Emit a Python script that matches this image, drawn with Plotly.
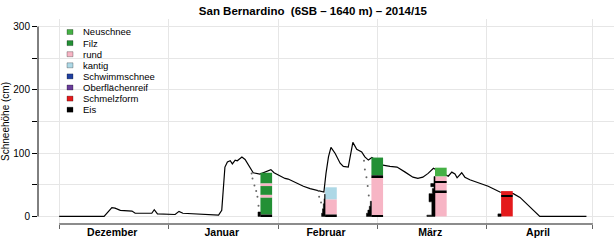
import numpy as np
import pandas as pd
import plotly.graph_objects as go

SEASON_START = pd.Timestamp("2014-12-01")

# ---- snow height (days since 1 Dec 2014, cm) ----
snow_day = [0.0, 12.7, 14.9, 15.8, 17.3, 20.6, 21.5, 26.2, 26.9, 27.8, 32.8, 33.9, 35.0,
            39.4, 39.9, 45.1, 46.0, 46.9, 47.6, 48.4, 49.0, 49.8, 50.4, 51.7, 52.6, 53.8,
            54.9, 56.8, 59.9, 60.8, 62.5, 63.9, 64.8, 67.2, 69.1, 71.0, 72.4, 73.8, 74.9,
            75.5, 76.2, 76.9, 78.1, 79.5, 80.4, 81.8, 82.5, 83.1, 84.2, 85.6, 86.5, 87.5,
            88.5, 91.6, 93.6, 95.6, 97.9, 100.1, 101.5, 102.9, 104.4, 105.9, 110.1, 111.1,
            112.0, 112.6, 113.9, 114.8, 116.2, 119.5, 121.4, 124.7, 128.5, 130.4, 132.3,
            134.1, 136.0, 149.2]
snow_cm = [0, 0, 14, 13, 9.5, 8.4, 5, 5, 10.6, 4, 3, 8, 5,
           4, 2.7, 2, 9.5, 78, 86, 88, 83, 89, 88, 94, 90, 78,
           69, 67, 74, 69, 63.5, 60, 59, 52, 47.6, 44, 42.4, 41, 38.6,
           68, 94, 109, 99.5, 84, 79, 78, 99.5, 117, 106, 102, 94, 89,
           93, 81, 79, 78, 70, 62, 60, 62, 68, 76, 63.5, 70,
           67, 61, 69, 62, 58, 52, 47.6, 38.6, 36, 30, 20,
           9.5, 0, 0]

# ---- snow profiles ----
profile_day = [58.6, 76.9, 90.0, 108.0, 126.7]
profile_layers = [
    [(0, 3, "Eis"), (3, 30, "Filz"), (30, 34, "rund"), (34, 48, "Filz"), (48, 52, "rund"), (52, 69, "Filz")],
    [(0, 3, "Eis"), (3, 27, "rund"), (27, 46, "kantig")],
    [(0, 2, "Eis"), (2, 62, "rund"), (62, 65, "Eis"), (65, 93, "Filz")],
    [(0, 38, "rund"), (38, 41, "Eis"), (41, 54, "rund"), (54, 56, "Eis"), (56, 63, "rund"), (63, 77, "Neuschnee")],
    [(0, 31, "Schmelzform"), (31, 33, "Eis"), (33, 40, "Schmelzform")],
]
# ram hardness per profile: (bottom cm, top cm, hardness in days of width)
profile_hardness = [
    [(0, 7, 0.7)],
    [(0, 5, 1.0), (5, 12, 0.75), (12, 20, 0.5), (20, 28, 0.3), (28, 35, 0.15)],
    [(0, 5, 1.4), (5, 10, 1.0), (10, 16, 0.6), (16, 24, 0.3)],
    [(0, 2, 2.3), (2, 23, 0.9), (23, 36, 1.7), (36, 44, 0.75), (44, 47, 0.3), (47, 52, 1.2), (52, 63, 0.3)],
    [(0, 4, 0.9)],
]
# snow temperatures per profile (height cm, temperature degC)
temp_height = [[68, 60, 49, 40, 31, 17], [40, 31, 22], [88, 74, 62, 48, 33], [], []]
temp_value = [[-5.0, -4.5, -3.4, -2.4, -1.7, -1.1], [-3.7, -3.4, -2.3], [-4.2, -3.7, -2.8, -2.1, -1.5], [], []]

grain_names = ["Neuschnee", "Filz", "rund", "kantig", "Schwimmschnee", "Oberflächenreif", "Schmelzform", "Eis"]
grain_colors = ["#45B045", "#239035", "#F7B5C5", "#ADD8E6", "#2040A0", "#6A3D9A", "#E41A1C", "#000000"]

month_mid = ["2014-12-16", "2015-01-16", "2015-02-14 12:00", "2015-03-16", "2015-04-15 12:00"]
month_names = ["Dezember", "Januar", "Februar", "März", "April"]

title_text = "San Bernardino  (6SB – 1640 m) – 2014/15"

# ---- layout constants ----
W, H = 616, 241
ML, MR, MT, MB = 38, 2, 19, 17
BAR_W_DAYS = 3.3
DAY_MS = 86400000
TEMP_SCALE = 0.5  # days per degC
FONT = "Liberation Sans, Arial, sans-serif"


def to_date(days):
    return SEASON_START + pd.to_timedelta(np.asarray(days, dtype=float), unit="D")


fig = go.Figure()

fig.add_trace(go.Scatter(x=to_date(snow_day), y=snow_cm, mode="lines",
                         line=dict(color="black", width=1.2), showlegend=False,
                         hoverinfo="skip"))

# profile bars (one trace per grain type) on overlaying axis so they sit above the line
for name, color in zip(grain_names, grain_colors):
    xs, bases, hs = [], [], []
    for pday, layers in zip(profile_day, profile_layers):
        for b, t, g in layers:
            if g == name:
                xs.append(pday)
                bases.append(b)
                hs.append(t - b)
    fig.add_trace(go.Bar(x=to_date(xs), y=hs, base=bases, width=BAR_W_DAYS * DAY_MS,
                         marker=dict(color=color, line=dict(width=0)), name=name,
                         showlegend=False, yaxis="y2"))

# hardness profiles
for pday, hard in zip(profile_day, profile_hardness):
    left = pday - BAR_W_DAYS / 2
    px, py = [left], [hard[0][0]]
    for b, t, w in hard:
        px += [left - w, left - w]
        py += [b, t]
    px += [left, left]
    py += [hard[-1][1], hard[0][0]]
    fig.add_trace(go.Scatter(x=to_date(px), y=py, mode="lines", fill="toself",
                             fillcolor="black", line=dict(width=0.5, color="black"),
                             showlegend=False, yaxis="y2", hoverinfo="skip"))

# temperature dots
for pday, th, tv in zip(profile_day, temp_height, temp_value):
    if not th:
        continue
    left = pday - BAR_W_DAYS / 2
    fig.add_trace(go.Scatter(x=to_date([left + v * TEMP_SCALE for v in tv]), y=th,
                             mode="markers", marker=dict(size=2, color="#666"),
                             showlegend=False, yaxis="y2", hoverinfo="skip"))

yrange = [-12, 312]
fig.update_layout(
    width=W, height=H, margin=dict(l=ML, r=MR, t=MT, b=MB),
    paper_bgcolor="white", plot_bgcolor="white",
    font=dict(family=FONT, size=10, color="black"),
    barmode="overlay", showlegend=False,
    title=dict(text="<b>" + title_text + "</b>", x=0.508, xanchor="center",
               y=1 - 11 / H, yanchor="middle", font=dict(size=11.5, family=FONT)),
    xaxis=dict(type="date", range=["2014-11-25", "2015-05-07"],
               tickvals=month_mid, ticktext=["<b>" + m + "</b>" for m in month_names],
               ticks="", tickfont=dict(size=10.5), showgrid=False, showline=False,
               zeroline=False,
               minor=dict(dtick="M1", tick0="2014-12-01", ticks="outside", ticklen=4,
                          tickcolor="#666", showgrid=True, gridcolor="#e6e6e6", gridwidth=1)),
    yaxis=dict(range=yrange, tick0=0, dtick=100, ticks="outside", ticklen=5,
               tickcolor="black", tickfont=dict(size=10), showline=False, zeroline=False,
               showgrid=True, gridcolor="#e6e6e6", gridwidth=1,
               minor=dict(dtick=50, tick0=0, ticks="outside", ticklen=5, tickcolor="black",
                          showgrid=True, gridcolor="#e6e6e6", gridwidth=1),
               title=dict(text="Schneehöhe (cm)", font=dict(size=10), standoff=3)),
    yaxis2=dict(range=yrange, overlaying="y", visible=False),
)

# axis lines in R style
fig.add_shape(type="line", xref="paper", yref="y", x0=0, x1=0, y0=0, y1=300,
              line=dict(color="black", width=1))
fig.add_shape(type="line", xref="x", yref="paper", x0="2014-12-01", x1="2015-05-01",
              y0=0, y1=0, line=dict(color="#666", width=1.5))

# legend (drawn manually to match compact R legend)
pw, ph = W - ML - MR, H - MT - MB
for i, (name, color) in enumerate(zip(grain_names, grain_colors)):
    cy = 32 + 11.1 * i
    yp = (H - MB - cy) / ph
    xp = (70 - ML) / pw
    fig.add_shape(type="rect", xref="paper", yref="paper", xsizemode="pixel",
                  ysizemode="pixel", xanchor=xp, yanchor=yp, x0=-3, x1=3, y0=-2.5, y1=2.5,
                  fillcolor=color, line=dict(color="rgba(0,0,0,0.45)", width=0.6))
    fig.add_annotation(text=name, xref="paper", yref="paper", x=(81 - ML) / pw, y=yp,
                       xanchor="left", yanchor="middle", showarrow=False,
                       font=dict(size=9.5, family=FONT))

fig.write_html("out.html")
